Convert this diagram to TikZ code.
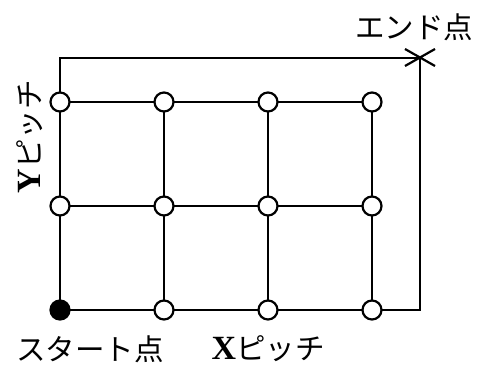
\documentclass[tikz,border=0pt]{standalone}
\usepackage{fontspec}
\newfontfamily\jp{Noto Sans CJK JP}[Scale=1]
\newfontfamily\lat{Liberation Serif}[Scale=1.15]
\begin{document}
\begin{tikzpicture}[x=1pt,y=-1pt,
  wire/.style={line width=2.6pt},
  pin/.style={circle,draw,fill=white,line width=2.2pt,minimum size=19pt,inner sep=0pt},
  startpin/.style={circle,draw,fill=black,line width=2.2pt,minimum size=19pt,inner sep=0pt},
  lbl/.style={font=\fontsize{29.5}{31}\selectfont\jp,inner sep=0pt}]
\useasboundingbox (0,0) rectangle (481,371);
% coordinates
\coordinate (tl) at (60,58);
\coordinate (e) at (420,58);
\coordinate (br) at (420,310);
% grid lines
\draw[wire] (60,310) -- (tl) -- (e) -- (br) -- (60,310);
\foreach \y in {102,206}{\draw[wire] (60,\y) -- (372,\y);}
\foreach \x in {164,268,372}{\draw[wire] (\x,102) -- (\x,310);}
% pins
\foreach \x/\c in {60/a,164/b,268/c,372/d}{
  \foreach \y/\r in {102/1,206/2}{\node[pin] (p\c\r) at (\x,\y) {};}
}
\node[startpin] (pa3) at (60,310) {};
\foreach \x/\c in {164/b,268/c,372/d}{\node[pin] (p\c3) at (\x,310) {};}
% end cross
\draw[line width=2.2pt] (405,49) -- (435,66) (405,66) -- (435,49);
% labels
\node[lbl] (endl) at (414,27) {エンド点};
\node[lbl] (startl) at (90,349) {スタート点};
\node[lbl] (xp) at (268,349) {{\lat\bfseries X}ピッチ};
\node[lbl,rotate=90] (yp) at (30,137) {{\lat\bfseries Y}ピッチ};
\end{tikzpicture}
\end{document}
